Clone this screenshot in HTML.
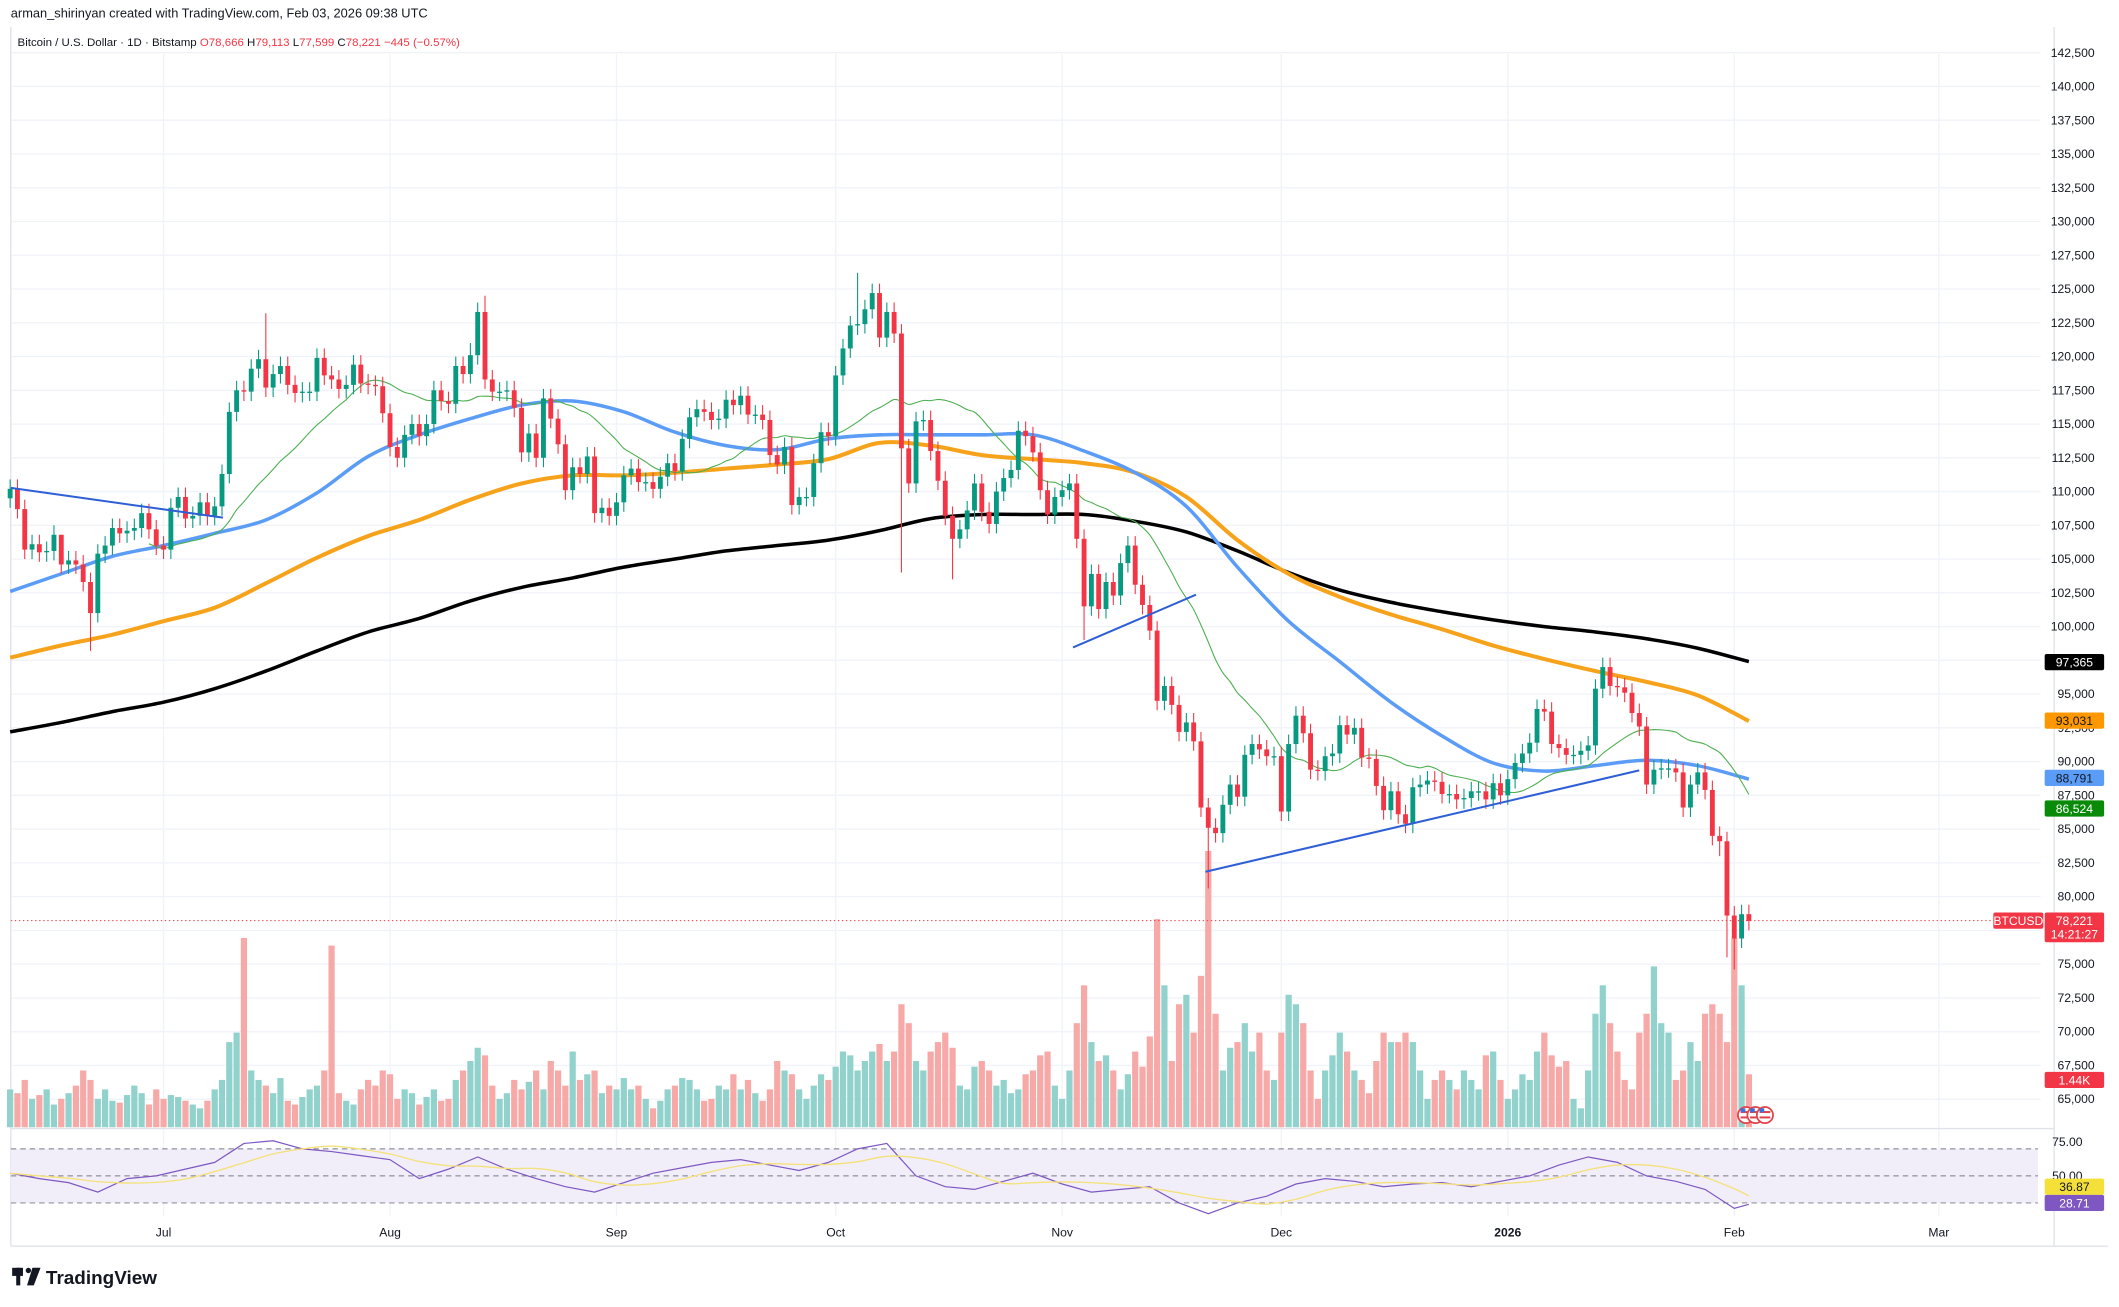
<!DOCTYPE html>
<html><head><meta charset="utf-8"><title>BTCUSD chart</title>
<style>
html,body{margin:0;padding:0;background:#fff;width:2119px;height:1307px;overflow:hidden}
svg{display:block;font-family:"Liberation Sans",sans-serif}
</style></head>
<body>
<svg id="chart" width="2119" height="1307" viewBox="0 0 1568 967" preserveAspectRatio="none" xmlns="http://www.w3.org/2000/svg">
<rect x="0" y="0" width="1568" height="967" fill="#ffffff"/>
<g id="grid"></g>
<g id="vol"></g>
<g id="mas"></g>
<g id="candles"></g>
<g id="trend"></g>
<g id="rsi"></g>
<g id="axes"></g>
<text x="8" y="13" font-size="9.5" fill="#131722">arman_shirinyan created with TradingView.com, Feb 03, 2026 09:38 UTC</text>
<text x="13" y="34" font-size="8.5" fill="#131722">Bitcoin / U.S. Dollar · 1D · Bitstamp <tspan fill="#f23645">O</tspan><tspan fill="#f23645">78,666</tspan> <tspan fill="#131722">H</tspan><tspan fill="#f23645">79,113</tspan> <tspan fill="#131722">L</tspan><tspan fill="#f23645">77,599</tspan> <tspan fill="#131722">C</tspan><tspan fill="#f23645">78,221 −445 (−0.57%)</tspan></text>
<g>
<rect x="9" y="938" width="8" height="6" fill="#131722"/><rect x="12" y="938" width="3" height="13" fill="#131722"/>
<circle cx="21" cy="940" r="2" fill="#131722"/><polygon points="24,938 30,938 25,951 20,951" fill="#131722"/>
<text x="34" y="950" font-size="14" font-weight="bold" fill="#131722">TradingView</text>
</g>
</svg>
<script>
// ---- data ----
const closes = [
110.2,108.7,105.7,106.1,105.5,105.6,106.8,104.6,104.9,104.6,103.3,101.0,105.4,106.0,107.3,106.9,107.1,107.3,108.4,107.2,106.0,
105.7,108.8,109.6,108.0,108.2,109.2,108.2,108.9,111.3,115.9,117.5,117.4,119.1,119.8,117.7,118.7,119.3,117.9,117.3,117.4,117.4,119.9,118.6,118.3,117.6,117.9,119.4,118.0,117.9,117.8,115.8,
113.3,112.5,114.2,115.0,114.1,115.0,117.5,116.7,116.5,119.3,118.7,120.1,123.3,118.3,117.4,117.4,117.5,116.2,112.9,114.3,112.5,116.9,115.4,113.5,110.1,111.8,111.3,112.6,108.4,108.8,108.2,
109.2,111.2,111.7,110.7,110.7,110.2,111.1,112.1,111.5,113.9,115.5,116.1,115.9,115.3,115.4,116.8,116.4,117.1,115.7,115.7,115.3,112.7,112.0,113.3,109.0,109.6,109.6,112.1,114.4,114.1,
118.6,120.6,122.3,122.4,123.5,124.7,121.4,123.3,121.7,113.2,110.6,115.2,115.3,113.0,110.8,108.2,106.5,107.2,108.6,110.6,108.5,107.6,110.0,111.0,111.6,114.5,114.1,112.9,110.1,108.3,109.6,
110.1,110.6,106.5,101.5,103.9,101.3,103.3,102.3,104.7,106.0,103.1,101.6,99.7,94.5,95.6,94.2,92.2,92.9,91.5,86.6,85.1,84.7,86.8,88.3,87.4,90.5,91.3,90.9,90.4,90.4,
86.3,91.3,93.4,92.1,89.4,89.3,90.4,90.6,92.7,92.0,92.5,90.3,90.2,88.2,86.4,87.8,86.1,85.4,88.1,88.3,88.6,88.5,87.6,87.6,87.2,87.3,87.8,87.8,87.2,88.4,87.5,
88.7,89.9,90.6,91.4,93.9,93.7,91.3,91.0,90.5,90.5,90.8,91.2,95.4,97.0,95.6,95.5,95.1,93.6,92.6,88.3,89.4,89.5,89.5,89.2,86.6,88.3,89.2,87.9,84.5,84.1,78.6,
76.9,78.7,78.2];
const firstOpen = 109.5;
const wickHiOverride = {35:123.2,65:124.5,116:126.2,7:106.0,63:121.0};
const wickLoOverride = {11:98.2,122:104.0,147:99.0,164:80.6,234:83.0,236:74.6,235:75.5,129:103.5};
const volumes = [
20,18,25,15,17,20,12,15,18,22,30,25,15,20,14,13,17,22,18,12,20,
15,17,16,14,12,10,14,20,25,45,50,100,30,25,22,18,26,14,12,16,20,22,30,96,18,14,12,20,25,22,30,
28,15,20,18,12,16,20,14,15,25,30,35,42,38,22,15,18,25,20,24,30,20,35,30,22,40,25,28,30,18,22,
20,26,20,22,15,10,14,20,22,26,25,20,14,15,22,20,28,20,25,18,14,20,35,30,28,20,15,22,28,25,
32,40,38,30,35,40,44,35,40,65,55,35,30,40,45,50,42,22,20,32,35,30,22,25,18,20,28,30,38,40,22,
15,30,55,75,45,35,38,30,20,28,40,32,48,110,75,35,65,70,50,80,146,60,30,42,45,55,40,50,30,25,
50,70,65,55,30,15,30,38,50,40,30,25,18,35,50,45,45,50,45,30,15,25,30,25,20,30,25,20,38,40,25,
15,20,28,25,40,50,38,32,35,15,10,30,60,75,55,40,25,20,50,60,85,55,50,25,30,45,35,60,65,60,45,
100,75,28];
// moving averages sampled every 7 days (index 0,7,...,238)
const ma200 = [92.2,92.9,93.7,94.4,95.4,96.7,98.2,99.6,100.6,101.9,102.9,103.6,104.4,105.0,105.6,106.0,106.4,107.1,108.0,108.3,108.3,108.3,107.8,107.0,105.6,104.0,102.7,101.8,101.1,100.5,100.0,99.6,99.1,98.4,97.4];
const ma100 = [97.7,98.6,99.4,100.4,101.4,103.2,105.1,106.7,107.9,109.4,110.6,111.2,111.2,111.4,111.7,112.0,112.4,113.6,113.4,112.7,112.4,112.1,111.4,109.6,106.4,103.9,102.2,100.9,99.8,98.6,97.6,96.7,95.9,94.9,93.0];
const ma50 = [102.6,103.9,105.2,106.0,106.9,107.9,109.9,112.6,114.2,115.4,116.4,116.7,115.9,114.4,113.4,113.1,113.9,114.2,114.2,114.2,114.2,113.0,111.4,108.9,104.4,100.4,97.4,94.4,91.9,89.9,89.3,89.7,90.1,89.7,88.7];
const maShortPeriod = 20;
// RSI sampled every 4 days (index 0..236) plus last
const rsiVals = [52,48,45,38,48,50,55,60,74,76,70,68,65,62,48,55,64,55,48,42,38,45,52,56,60,62,58,54,60,70,74,50,42,40,46,52,44,38,40,42,30,22,30,35,44,48,46,42,44,45,42,46,50,58,64,60,50,46,40,26,29];
const priceTicks = [142.5,140,137.5,135,132.5,130,127.5,125,122.5,120,117.5,115,112.5,110,107.5,105,102.5,100,97.5,95,92.5,90,87.5,85,82.5,80,77.5,75,72.5,70,67.5,65];
const monthLabels = ["Jul","Aug","Sep","Oct","Nov","Dec","2026","Feb","Mar"];
const monthIdx = [21,52,83,113,144,174,205,236,264];

// ---- scales ----
const X = i => 7.5 + 5.406*i;
const Y = k => 39 + (142.5 - k)*9.99;
const VY0 = 834, VS = 1.4;
const RY = r => 920 - r;
const NS = "http://www.w3.org/2000/svg";
function mk(tag, attrs, parent){const e=document.createElementNS(NS,tag);for(const k in attrs)e.setAttribute(k,attrs[k]);parent.appendChild(e);return e;}
const G = id => document.getElementById(id);
const UP="#089981", DN="#f23645";
function smoothPath(pts){
  if(pts.length<2) return '';
  let d='M'+pts[0][0].toFixed(1)+','+pts[0][1].toFixed(1);
  for(let i=0;i<pts.length-1;i++){
    const p0=pts[Math.max(0,i-1)],p1=pts[i],p2=pts[i+1],p3=pts[Math.min(pts.length-1,i+2)];
    const c1x=p1[0]+(p2[0]-p0[0])/6,c1y=p1[1]+(p2[1]-p0[1])/6;
    const c2x=p2[0]-(p3[0]-p1[0])/6,c2y=p2[1]-(p3[1]-p1[1])/6;
    d+=' C'+c1x.toFixed(1)+','+c1y.toFixed(1)+' '+c2x.toFixed(1)+','+c2y.toFixed(1)+' '+p2[0].toFixed(1)+','+p2[1].toFixed(1);
  }
  return d;
}

// grid
const grid=G('grid');
priceTicks.forEach(p=>{const l=mk('line',{x1:8,x2:1510,y1:Y(p),y2:Y(p),stroke:'#f0f3fa','stroke-width':1},grid);

});
monthIdx.forEach(i=>{const l=mk('line',{x1:X(i),x2:X(i),y1:40,y2:900,stroke:'#f0f3fa','stroke-width':1},grid);

});
mk('line',{x1:8,x2:1520,y1:835,y2:835,stroke:'#e0e3eb'},grid);
mk('line',{x1:8,x2:1560,y1:922,y2:922,stroke:'#e0e3eb'},grid);
mk('line',{x1:1520,x2:1520,y1:20,y2:922,stroke:'#e0e3eb'},grid);
mk('line',{x1:8,x2:8,y1:20,y2:922,stroke:'#e0e3eb'},grid);

// candles & volume
const cg=G('candles'), vg=G('vol');
let prev=firstOpen;
closes.forEach((c,i)=>{
  const o=prev; prev=c;
  const up=c>=o;
  const hi = wickHiOverride[i]!==undefined?wickHiOverride[i]:Math.max(o,c)+0.7;
  const lo = wickLoOverride[i]!==undefined?wickLoOverride[i]:Math.min(o,c)-0.7;
  const col=up?UP:DN, x=X(i);
  const w=mk('line',{x1:x,x2:x,y1:Y(hi),y2:Y(lo),stroke:col,'stroke-width':0.8},cg);
  
  
  const y1=Y(Math.max(o,c)), y2=Y(Math.min(o,c));
  const b=mk('rect',{x:x-1.8,y:y1,width:3.6,height:Math.max(1,y2-y1),fill:col},cg);
  
  
  const h=volumes[i]*VS;
  const v=mk('rect',{x:x-2.3,y:VY0-h,width:4.6,height:h,fill:up?'#92d2cc':'#f7a9a7'},vg);
  
  
});

// MAs
const mg=G('mas');
function maLine(arr,col,w,name){
  const pts=[];arr.forEach((v,j)=>{if(v!==null)pts.push([X(j*7),Y(v)]);});
  const p=mk('path',{d:smoothPath(pts),fill:'none',stroke:col,'stroke-width':w,'stroke-linejoin':'round'},mg);
  
  
}
maLine(ma200,'#000000',2.6,'ma-200-line');
maLine(ma100,'#f7a21b',3,'ma-100-line');
maLine(ma50,'#5b9cf6',2.6,'ma-50-line');
// short SMA computed from closes
const smaPts=[];
for(let i=maShortPeriod-1;i<closes.length;i++){let s=0;for(let k=i-maShortPeriod+1;k<=i;k++)s+=closes[k];smaPts.push([X(i),Y(s/maShortPeriod)]);}
const sp=mk('path',{d:smoothPath(smaPts),fill:'none',stroke:'#4caf50','stroke-width':0.8},mg);



// trendlines
const tg=G('trend');
[[8,361,165,383],[794,479,885,440],[892,645,1213,570]].forEach(t=>{
  const l=mk('line',{x1:t[0],y1:t[1],x2:t[2],y2:t[3],stroke:'#2e5fd6','stroke-width':1.5},tg);
  
  
});
const pl=mk('line',{x1:8,x2:1475,y1:Y(78.221),y2:Y(78.221),stroke:'#f23645','stroke-width':0.7,'stroke-dasharray':'1,2'},tg);



// RSI
const rg=G('rsi');
mk('rect',{x:8,y:RY(70),width:1500,height:40,fill:'#f1eefa'},rg);
[70,50,30].forEach(r=>{const l=mk('line',{x1:8,x2:1508,y1:RY(r),y2:RY(r),stroke:'#787b86','stroke-width':0.7,'stroke-dasharray':'4,3'},rg);

});
const rIdx = rsiVals.map((v,j)=> j<60? j*4 : 238);
const rp=mk('polyline',{points:rsiVals.map((v,j)=>X(rIdx[j]).toFixed(1)+','+RY(v)).join(' '),fill:'none',stroke:'#7e57c2','stroke-width':0.9},rg);


const rma=rsiVals.map((v,j)=>{let s=0,n=0;for(let k=Math.max(0,j-3);k<=j;k++){s+=rsiVals[k];n++;}return s/n;});
const rm=mk('path',{d:smoothPath(rma.map((v,j)=>[X(rIdx[j]),RY(v)])),fill:'none',stroke:'#f5e17a','stroke-width':1},rg);



// axes labels
const ag=G('axes');
priceTicks.forEach(p=>{const t=mk('text',{x:1550,y:Y(p)+3,'font-size':9,'text-anchor':'end',fill:'#131722'},ag);
t.textContent=(p*1000).toLocaleString('en-US');

});
[[75,'75.00'],[50,'50.00']].forEach(r=>{const t=mk('text',{x:1541,y:RY(r[0])+3,'font-size':9,'text-anchor':'end',fill:'#131722'},ag);t.textContent=r[1];

});
monthLabels.forEach((m,j)=>{const t=mk('text',{x:X(monthIdx[j]),y:915,'font-size':9,'text-anchor':'middle',fill:'#131722','font-weight':m==='2026'?'bold':'normal'},ag);t.textContent=m;

});
function tag(y,txt,bg,fg,name,x,w,h){
  const g=mk('g',{},ag);
  
  
  mk('rect',{x:x||1513,y:y-6,width:w||44,height:h||12,rx:1.5,fill:bg},g);
  const t=mk('text',{x:(x||1513)+(w||44)/2,y:y+3.3,'font-size':9,'text-anchor':'middle',fill:fg},g);t.textContent=txt;
}
tag(Y(97.365),'97,365','#000000','#fff','ma-200-value-tag');
tag(Y(93.031),'93,031','#ff9800','#131722','ma-100-value-tag');
tag(Y(88.791),'88,791','#5b9cf6','#131722','ma-50-value-tag');
tag(Y(86.524),'86,524','#098a09','#fff','ma-20-value-tag');
tag(Y(78.221),'BTCUSD','#f23645','#fff','symbol-tag',1475,37,12);
const pg=mk('g',{},ag);


mk('rect',{x:1513,y:Y(78.221)-6,width:44,height:22,rx:1.5,fill:'#f23645'},pg);
let t1=mk('text',{x:1535,y:Y(78.221)+3.3,'font-size':9,'text-anchor':'middle',fill:'#fff'},pg);t1.textContent='78,221';
let t2=mk('text',{x:1535,y:Y(78.221)+13.3,'font-size':9,'text-anchor':'middle',fill:'#fff'},pg);t2.textContent='14:21:27';
tag(799,'1.44K','#f23645','#fff','volume-value-tag');
tag(878,'36.87','#f5e03a','#131722','rsi-ma-value-tag');
tag(890,'28.71','#7e57c2','#fff','rsi-value-tag');
[1292,1299,1306].forEach(x=>{const g=mk('g',{},ag);


mk('circle',{cx:x,cy:825,r:6,fill:'#fff',stroke:'#e0434b','stroke-width':1.3},g);
mk('rect',{x:x-4,y:822,width:8,height:1.5,fill:'#e0434b'},g);mk('rect',{x:x-4,y:826,width:8,height:1.5,fill:'#e0434b'},g);
mk('rect',{x:x-4,y:820,width:3.5,height:3,fill:'#3d6fd8'},g);});
</script>
</body></html>
